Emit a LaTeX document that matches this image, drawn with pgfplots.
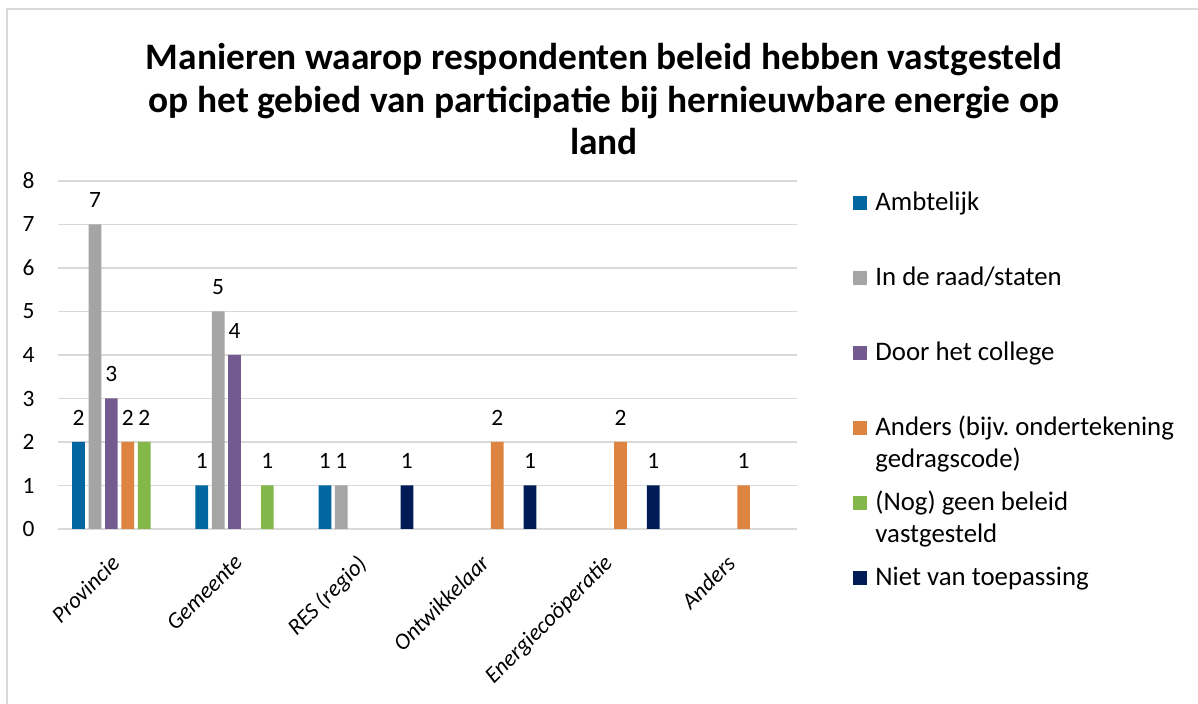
\documentclass[border=0pt]{standalone}
\usepackage{pgfplots}
\pgfplotsset{compat=1.18}
\usepackage{fontspec}
\setmainfont{Carlito}
\frenchspacing
\definecolor{cBlue}{RGB}{0,103,160}
\definecolor{cGray}{RGB}{165,165,165}
\definecolor{cPurple}{RGB}{115,90,143}
\definecolor{cOrange}{RGB}{222,132,65}
\definecolor{cGreen}{RGB}{130,184,73}
\definecolor{cNavy}{RGB}{0,27,85}
\definecolor{gridgray}{RGB}{217,217,217}
\begin{document}
\begin{tikzpicture}
\path[use as bounding box] (0,0) rectangle (599pt,352pt);
\draw[gridgray, line width=0.75pt] (3.5pt,0) -- (3.5pt,347.5pt) -- (599pt,347.5pt);
\node[anchor=base, align=center, font=\bfseries\fontsize{18.7}{21.25}\selectfont] at (302pt,274.5pt)
  {Manieren waarop respondenten beleid hebben vastgesteld\\op het gebied van participatie bij hernieuwbare energie op\\land};
\begin{axis}[
  at={(29pt,87.5pt)}, anchor=south west,
  width=369.5pt, height=174pt, scale only axis,
  xmin=-0.5, xmax=5.5, ymin=0, ymax=8,
  ytick={0,1,...,8}, xtick={0,1,2,3,4,5},
  xticklabels={Provincie,Gemeente,RES (regio),Ontwikkelaar,Energiecoöperatie,Anders},
  axis line style={draw=none},
  major tick length=0pt,
  ymajorgrids, grid style={gridgray, line width=0.75pt},
  ybar=1.85pt, bar width=6.35pt,
  tick label style={font=\fontsize{11.7}{13}\selectfont},
  /pgf/number format/assume math mode=true,
  yticklabel style={anchor=east, inner sep=0pt, xshift=-11.5pt},
  xticklabel style={font=\itshape\fontsize{11.5}{13}\selectfont, inner sep=0pt, xshift=-5pt, yshift=-12pt, rotate=45, anchor=north east},
  nodes near coords,
  every node near coord/.append style={font=\fontsize{11.7}{13}\selectfont, anchor=south, inner sep=0pt, yshift=8.25pt},
  legend style={at={(1.0758,0.9616)}, anchor=north west, draw=none, fill=none, inner sep=0pt,
    row sep=29.5pt, font=\fontsize{13.4}{16}\selectfont,
    nodes={inner sep=0pt, text height=8pt, text depth=0pt}},
  legend cell align=left,
  legend image code/.code={\fill[#1] (0pt,-3.5pt) rectangle (7pt,3.5pt);},
]
% zero values (not drawn in the reference) are omitted
\addplot[fill=cBlue, draw=none] coordinates {(0,2) (1,1) (2,1)};
\addplot[fill=cGray, draw=none] coordinates {(0,7) (1,5) (2,1)};
\addplot[fill=cPurple, draw=none] coordinates {(0,3) (1,4)};
\addplot[fill=cOrange, draw=none] coordinates {(0,2) (3,2) (4,2) (5,1)};
\addplot[fill=cGreen, draw=none] coordinates {(0,2) (1,1)};
\addplot[fill=cNavy, draw=none] coordinates {(2,1) (3,1) (4,1)};
\addlegendentry{\hspace{4pt}Ambtelijk}
\addlegendentry{\hspace{4pt}In de raad/staten}
\addlegendentry{\hspace{4pt}Door het college}
\addlegendentry{\hspace{4pt}\vtop{\hbox{Anders (bijv. ondertekening}\hbox{gedragscode)}}}
\addlegendentry{\hspace{4pt}\vtop{\hbox{(Nog) geen beleid}\hbox{vastgesteld}}}
\addlegendentry{\hspace{4pt}Niet van toepassing}
\end{axis}
\end{tikzpicture}
\end{document}
